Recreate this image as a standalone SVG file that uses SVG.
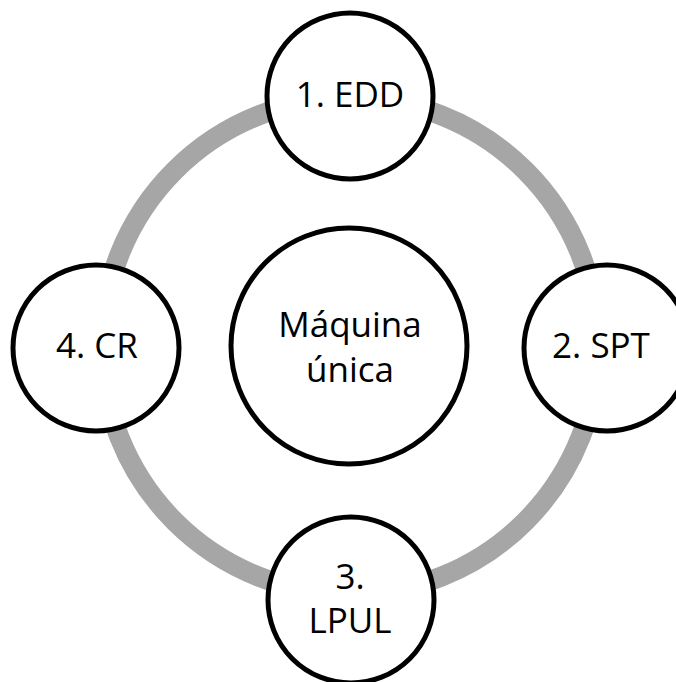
<svg xmlns="http://www.w3.org/2000/svg" width="676" height="682" viewBox="0 0 676 682">
  <style>
    .ring { fill: none; stroke: #a6a6a6; stroke-width: 20; }
    .node { fill: #ffffff; stroke: #000000; stroke-width: 5; }
    .label { font-family: "Open Sans", "Noto Sans", sans-serif; font-size: 35px; fill: #000000; text-anchor: middle; }
  </style>
  <rect x="0" y="0" width="676" height="682" fill="#ffffff"/>

  <!-- cycle ring linking the four rules -->
  <g id="connectors">
    <circle class="ring" cx="350" cy="346" r="248"/>
  </g>

  <g id="center">
    <circle class="node" cx="349" cy="346" r="118"/>
    <text class="label" x="350" y="337">Máquina</text>
    <text class="label" x="350" y="382">única</text>
  </g>

  <g id="edd">
    <circle class="node" cx="350" cy="96" r="83"/>
    <text class="label" x="350" y="107">1. EDD</text>
  </g>

  <g id="spt">
    <circle class="node" cx="607" cy="348" r="83"/>
    <text class="label" x="601" y="358">2. SPT</text>
  </g>

  <g id="lpul">
    <circle class="node" cx="351" cy="600" r="83"/>
    <text class="label" x="350" y="589">3.</text>
    <text class="label" x="350" y="633">LPUL</text>
  </g>

  <g id="cr">
    <circle class="node" cx="96" cy="348" r="83"/>
    <text class="label" x="97" y="358">4. CR</text>
  </g>
</svg>
